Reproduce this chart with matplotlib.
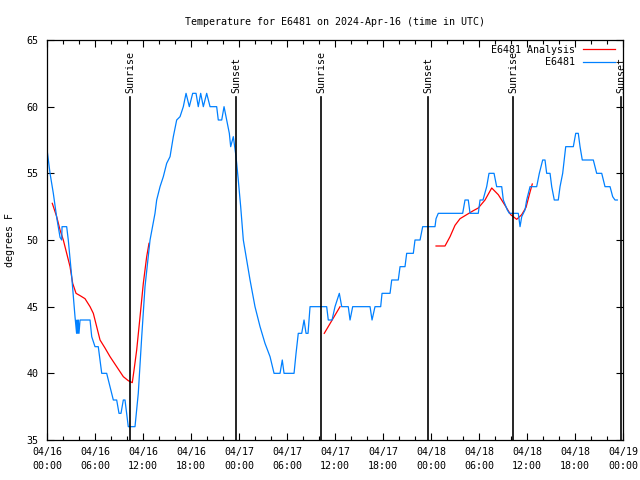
import numpy as np
import matplotlib
matplotlib.use('Agg')
import matplotlib.pyplot as plt
import matplotlib.dates as mdates
from datetime import datetime, timedelta

# hours since 2024-04-16 00:00 UTC
obs_hours = [0, 0.38, 0.79, 1.21, 1.63, 1.84, 1.88, 2.46, 2.66, 3.09, 3.29, 3.5, 3.7, 3.75, 3.85, 3.91, 4.0, 4.13,
             5.38, 5.59, 6.0, 6.41, 6.84, 7.46, 7.88, 8.29, 8.71, 9.0, 9.25, 9.54, 9.75, 10.16, 11.0, 11.41,
             11.84, 12.25, 12.88, 13.5, 13.71, 14.13, 14.54, 14.96, 15.38, 15.79, 16.21, 16.63, 17.04, 17.38,
             17.79, 18.21, 18.63, 18.91, 19.21, 19.54, 19.96, 20.38, 21.21, 21.41, 21.84, 22.13, 22.46, 22.79,
             22.96, 23.29, 23.63, 23.91, 24.21, 24.54, 24.96, 25.38, 26.0, 26.63, 27.25, 27.88, 28.38, 29.13,
             29.41, 29.63, 30.88, 31.13, 31.41, 31.84, 32.13, 32.38, 32.63, 32.88, 34.96, 35.16, 35.63, 36.0,
             36.54, 36.84, 37.66, 37.88, 38.21, 40.38, 40.63, 41.0, 41.71, 41.88, 42.88, 43.09, 43.91, 44.13,
             44.75, 44.96, 45.79, 46.0, 46.63, 46.96, 48.5, 48.63, 48.91, 51.96, 52.25, 52.66, 52.88, 53.91,
             54.13, 54.5, 54.96, 55.25, 55.88, 56.21, 56.84, 57.04, 57.54, 57.79, 58.91, 59.13, 59.34, 59.75,
             59.96, 60.38, 61.21, 61.54, 61.96, 62.25, 62.46, 62.88, 63.09, 63.41, 63.91, 64.13, 64.46, 64.84,
             65.79, 66.09, 66.41, 66.63, 66.91, 68.29, 68.71, 69.34, 69.75, 70.38, 70.71, 71.0, 71.29]
obs_temp = [56.8, 55, 53.5, 51.7, 50.2, 50, 51, 51, 50, 47.25, 45.75, 44.25, 43, 44, 43, 44, 43, 44,
            44, 42.75, 42, 42, 40, 40, 39, 38, 38, 37, 37, 38, 38, 36, 36, 38.5,
            42.75, 46.5, 50, 52, 53, 54, 54.75, 55.75, 56.25, 57.75, 59, 59.25, 60, 61,
            60, 61, 61, 60, 61, 60, 61, 60, 60, 59, 59, 60, 59, 58,
            57, 57.75, 56.25, 54.5, 52.5, 50, 48.5, 47, 45, 43.5, 42.25, 41.25, 40, 40,
            41, 40, 40, 41.5, 43, 43, 44, 43, 43, 45, 45, 44, 44, 45,
            46, 45, 45, 44, 45, 45, 44, 45, 45, 46, 46, 47, 47, 48,
            48, 49, 49, 50, 50, 51, 51, 51.6, 52, 52, 53, 53, 52, 52,
            53, 53, 54, 55, 55, 54, 54, 53, 52.25, 52, 52, 51, 51.75, 52.25,
            53, 54, 54, 55, 56, 56, 55, 55, 54, 53, 53, 54, 55, 57,
            57, 58, 58, 57, 56, 56, 55, 55, 54, 54, 53.25, 53, 53]

ana_hours = [0.66, 1.21, 1.63, 2.04, 2.46, 2.88, 3.21, 3.63, 4.21, 4.75, 5.38, 5.79, 6.21, 6.63, 7.25, 7.88,
             8.71, 9.54, 10.16, 10.66, 10.88, 11.21, 11.63, 12.04, 12.46, 12.75, np.nan,
             34.66, 36.63, np.nan,
             48.63, 49.75, 50.38, 51.0, 51.63, 52.46, 53.29, 53.91, 54.75, 55.59, 56.41, 57.25, 57.96,
             58.71, 59.34, 59.88, 60.38, 60.66]
ana_temp = [52.75, 51.75, 50.75, 50, 49, 48, 46.75, 46, 45.8, 45.6, 45, 44.5, 43.5, 42.5, 41.9, 41.25,
            40.5, 39.75, 39.45, 39.3, 40.25, 41.75, 44.25, 46.75, 48.75, 49.75, np.nan,
            43, 45, np.nan,
            49.55, 49.55, 50.25, 51.1, 51.6, 51.9, 52.2, 52.4, 53, 53.9, 53.4, 52.6, 51.9,
            51.55, 51.9, 52.45, 53.6, 54.2]

sun_hours = [10.37, 23.62, 34.3, 47.65, 58.3, 71.75]
sun_labels = ['Sunrise', 'Sunset', 'Sunrise', 'Sunset', 'Sunrise', 'Sunset']

base = datetime(2024, 4, 16)


def to_time(hours):
    return [base + timedelta(hours=h) for h in np.nan_to_num(hours)]


plt.rcParams['font.family'] = 'DejaVu Sans Mono'
plt.rcParams['font.size'] = 7.2

fig = plt.figure(figsize=(6.4, 4.8), dpi=100)
ax = fig.add_axes([47 / 640, 40 / 480, 576 / 640, 400 / 480])

ax.plot(to_time(ana_hours), np.array(ana_temp, dtype=float), color='#ff0000', lw=0.9, label='E6481 Analysis')
ax.plot(to_time(obs_hours), obs_temp, color='#0080ff', lw=0.9, label='E6481')

for h, lab in zip(sun_hours, sun_labels):
    t = base + timedelta(hours=h)
    ax.plot([t, t], [35, 60.7], color='black', lw=1.2)
    ax.text(t, 61.05, lab, rotation=90, ha='center', va='bottom')

ax.set_xlim(base, base + timedelta(hours=72))
ax.set_ylim(35, 65)
ax.set_yticks([35, 40, 45, 50, 55, 60, 65])
ax.xaxis.set_major_locator(mdates.HourLocator(byhour=range(0, 24, 6)))
ax.xaxis.set_minor_locator(mdates.HourLocator(byhour=range(0, 24, 2)))
ax.xaxis.set_major_formatter(mdates.DateFormatter('%m/%d\n%H:%M'))
ax.tick_params(which='both', direction='in', top=True, right=True, width=0.8)
ax.tick_params(which='major', length=5, pad=6)
ax.tick_params(which='minor', length=3)
ax.tick_params(axis='x', pad=5)
plt.setp(ax.get_xticklabels(), linespacing=1.55)
for s in ax.spines.values():
    s.set_linewidth(0.9)

fig.text(10 / 640, 0.5, 'degrees F', rotation=90, ha='center', va='center')
ax.set_title('Temperature for E6481 on 2024-Apr-16 (time in UTC)', fontsize=7.2, pad=11)

ax.legend(loc='upper right', frameon=False, markerfirst=False, handlelength=3.2,
          borderaxespad=0.1, labelspacing=0.25, handletextpad=0.8, bbox_to_anchor=(0.995, 1.0))

fig.savefig('out.png', dpi=100)
